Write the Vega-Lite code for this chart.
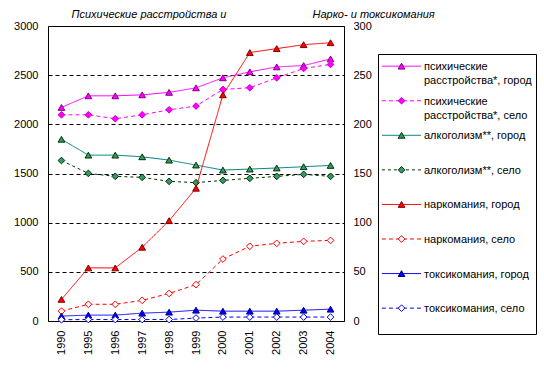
{
  "$schema": "https://vega.github.io/schema/vega-lite/v6.json",
  "padding": {"left": 13, "top": 7, "right": 0, "bottom": 0},
  "background": "white",
  "bounds": "flush",
  "spacing": 34,
  "config": {
    "font": "Liberation Sans",
    "view": {"stroke": "black", "strokeWidth": 1},
    "axis": {"labelFont": "Liberation Sans", "labelFontSize": 11, "labelColor": "black", "titleFont": "Liberation Sans", "titleFontSize": 11, "titleColor": "black", "titleFontWeight": "normal", "titleFontStyle": "italic", "ticks": false, "domain": false, "grid": false}
  },
  "datasets": {
    "main": [
      {"year": 1990, "series": "психические\nрасстройства*, город", "value": 2172},
      {"year": 1995, "series": "психические\nрасстройства*, город", "value": 2290},
      {"year": 1996, "series": "психические\nрасстройства*, город", "value": 2290},
      {"year": 1997, "series": "психические\nрасстройства*, город", "value": 2300},
      {"year": 1998, "series": "психические\nрасстройства*, город", "value": 2325},
      {"year": 1999, "series": "психические\nрасстройства*, город", "value": 2371},
      {"year": 2000, "series": "психические\nрасстройства*, город", "value": 2473},
      {"year": 2001, "series": "психические\nрасстройства*, город", "value": 2534},
      {"year": 2002, "series": "психические\nрасстройства*, город", "value": 2584},
      {"year": 2003, "series": "психические\nрасстройства*, город", "value": 2598},
      {"year": 2004, "series": "психические\nрасстройства*, город", "value": 2665},
      {"year": 1990, "series": "психические\nрасстройства*, село", "value": 2097},
      {"year": 1995, "series": "психические\nрасстройства*, село", "value": 2097},
      {"year": 1996, "series": "психические\nрасстройства*, село", "value": 2057},
      {"year": 1997, "series": "психические\nрасстройства*, село", "value": 2097},
      {"year": 1998, "series": "психические\nрасстройства*, село", "value": 2148},
      {"year": 1999, "series": "психические\nрасстройства*, село", "value": 2186},
      {"year": 2000, "series": "психические\nрасстройства*, село", "value": 2355},
      {"year": 2001, "series": "психические\nрасстройства*, село", "value": 2372},
      {"year": 2002, "series": "психические\nрасстройства*, село", "value": 2473},
      {"year": 2003, "series": "психические\nрасстройства*, село", "value": 2568},
      {"year": 2004, "series": "психические\nрасстройства*, село", "value": 2609},
      {"year": 1990, "series": "алкоголизм**, город", "value": 1848},
      {"year": 1995, "series": "алкоголизм**, город", "value": 1687},
      {"year": 1996, "series": "алкоголизм**, город", "value": 1687},
      {"year": 1997, "series": "алкоголизм**, город", "value": 1670},
      {"year": 1998, "series": "алкоголизм**, город", "value": 1636},
      {"year": 1999, "series": "алкоголизм**, город", "value": 1586},
      {"year": 2000, "series": "алкоголизм**, город", "value": 1535},
      {"year": 2001, "series": "алкоголизм**, город", "value": 1545},
      {"year": 2002, "series": "алкоголизм**, город", "value": 1556},
      {"year": 2003, "series": "алкоголизм**, город", "value": 1569},
      {"year": 2004, "series": "алкоголизм**, город", "value": 1582},
      {"year": 1990, "series": "алкоголизм**, село", "value": 1632},
      {"year": 1995, "series": "алкоголизм**, село", "value": 1501},
      {"year": 1996, "series": "алкоголизм**, село", "value": 1471},
      {"year": 1997, "series": "алкоголизм**, село", "value": 1461},
      {"year": 1998, "series": "алкоголизм**, село", "value": 1420},
      {"year": 1999, "series": "алкоголизм**, село", "value": 1407},
      {"year": 2000, "series": "алкоголизм**, село", "value": 1430},
      {"year": 2001, "series": "алкоголизм**, село", "value": 1451},
      {"year": 2002, "series": "алкоголизм**, село", "value": 1471},
      {"year": 2003, "series": "алкоголизм**, село", "value": 1491},
      {"year": 2004, "series": "алкоголизм**, село", "value": 1471},
      {"year": 1990, "series": "наркомания, город", "value": 22},
      {"year": 1995, "series": "наркомания, город", "value": 54},
      {"year": 1996, "series": "наркомания, город", "value": 54},
      {"year": 1997, "series": "наркомания, город", "value": 75},
      {"year": 1998, "series": "наркомания, город", "value": 102},
      {"year": 1999, "series": "наркомания, город", "value": 135},
      {"year": 2000, "series": "наркомания, город", "value": 230},
      {"year": 2001, "series": "наркомания, город", "value": 273},
      {"year": 2002, "series": "наркомания, город", "value": 277},
      {"year": 2003, "series": "наркомания, город", "value": 281},
      {"year": 2004, "series": "наркомания, город", "value": 283},
      {"year": 1990, "series": "наркомания, село", "value": 10},
      {"year": 1995, "series": "наркомания, село", "value": 17},
      {"year": 1996, "series": "наркомания, село", "value": 17},
      {"year": 1997, "series": "наркомания, село", "value": 21},
      {"year": 1998, "series": "наркомания, село", "value": 28},
      {"year": 1999, "series": "наркомания, село", "value": 37},
      {"year": 2000, "series": "наркомания, село", "value": 63},
      {"year": 2001, "series": "наркомания, село", "value": 76},
      {"year": 2002, "series": "наркомания, село", "value": 79},
      {"year": 2003, "series": "наркомания, село", "value": 81},
      {"year": 2004, "series": "наркомания, село", "value": 82},
      {"year": 1990, "series": "токсикомания, город", "value": 5},
      {"year": 1995, "series": "токсикомания, город", "value": 6},
      {"year": 1996, "series": "токсикомания, город", "value": 6},
      {"year": 1997, "series": "токсикомания, город", "value": 8},
      {"year": 1998, "series": "токсикомания, город", "value": 9},
      {"year": 1999, "series": "токсикомания, город", "value": 11},
      {"year": 2000, "series": "токсикомания, город", "value": 10},
      {"year": 2001, "series": "токсикомания, город", "value": 10},
      {"year": 2002, "series": "токсикомания, город", "value": 10},
      {"year": 2003, "series": "токсикомания, город", "value": 11},
      {"year": 2004, "series": "токсикомания, город", "value": 12},
      {"year": 1990, "series": "токсикомания, село", "value": 1.3},
      {"year": 1995, "series": "токсикомания, село", "value": 1.5},
      {"year": 1996, "series": "токсикомания, село", "value": 1.5},
      {"year": 1997, "series": "токсикомания, село", "value": 1.5},
      {"year": 1998, "series": "токсикомания, село", "value": 1.5},
      {"year": 1999, "series": "токсикомания, село", "value": 3},
      {"year": 2000, "series": "токсикомания, село", "value": 4},
      {"year": 2001, "series": "токсикомания, село", "value": 4},
      {"year": 2002, "series": "токсикомания, село", "value": 4},
      {"year": 2003, "series": "токсикомания, село", "value": 4},
      {"year": 2004, "series": "токсикомания, село", "value": 4}
    ]
  },
  "hconcat": [
    {
      "width": 296,
      "height": 295,
      "data": {"name": "main"},
      "encoding": {
        "x": {"field": "year", "type": "ordinal", "scale": {"type": "point", "padding": 0.5}, "axis": {"title": null, "labelAngle": 270, "labelAlign": "right", "labelBaseline": "middle", "labelPadding": 9}}
      },
      "layer": [
        {
          "transform": [{"filter": {"field": "series", "oneOf": ["психические\nрасстройства*, город", "психические\nрасстройства*, село", "алкоголизм**, город", "алкоголизм**, село"]}}],
          "encoding": {
            "y": {"field": "value", "type": "quantitative", "scale": {"domain": [0, 3000], "nice": false}, "axis": {"orient": "left", "format": "d", "title": "Психические расстройства и", "titleAngle": 0, "titleAlign": "left", "titleBaseline": "alphabetic", "titleX": 23, "titleY": -9, "values": [0, 500, 1000, 1500, 2000, 2500, 3000], "grid": true, "gridColor": "black", "gridDash": [4, 3], "gridWidth": 1, "gridOpacity": 1, "labelPadding": 10}}
          },
          "layer": [
            {
              "mark": {"type": "line", "strokeWidth": 1},
              "encoding": {
                "color": {"field": "series", "type": "nominal", "legend": null, "scale": {"domain": ["психические\nрасстройства*, город", "психические\nрасстройства*, село", "алкоголизм**, город", "алкоголизм**, село", "наркомания, город", "наркомания, село", "токсикомания, город", "токсикомания, село"], "range": ["#FF00FF", "#FF00FF", "#008080", "#003300", "#FF0000", "#FF0000", "#0000FF", "#0000FF"]}},
                "strokeDash": {"field": "series", "type": "nominal", "legend": null, "scale": {"domain": ["психические\nрасстройства*, город", "психические\nрасстройства*, село", "алкоголизм**, город", "алкоголизм**, село", "наркомания, город", "наркомания, село", "токсикомания, город", "токсикомания, село"], "range": [[1, 0], [4, 3], [1, 0], [3, 3], [1, 0], [4, 3], [1, 0], [4, 3]]}}
              }
            },
            {
              "mark": {"type": "point", "opacity": 1, "size": 45, "strokeWidth": 1},
              "encoding": {
                "shape": {"field": "series", "type": "nominal", "legend": null, "scale": {"domain": ["психические\nрасстройства*, город", "психические\nрасстройства*, село", "алкоголизм**, город", "алкоголизм**, село", "наркомания, город", "наркомания, село", "токсикомания, город", "токсикомания, село"], "range": ["triangle-up", "diamond", "triangle-up", "diamond", "triangle-up", "diamond", "triangle-up", "diamond"]}},
                "fill": {"field": "series", "type": "nominal", "legend": null, "scale": {"domain": ["психические\nрасстройства*, город", "психические\nрасстройства*, село", "алкоголизм**, город", "алкоголизм**, село", "наркомания, город", "наркомания, село", "токсикомания, город", "токсикомания, село"], "range": ["#FF00FF", "#FF00FF", "#339966", "#339966", "#FF0000", "#FFFFFF", "#0000FF", "#FFFFFF"]}},
                "stroke": {"field": "series", "type": "nominal", "legend": null, "scale": {"domain": ["психические\nрасстройства*, город", "психические\nрасстройства*, село", "алкоголизм**, город", "алкоголизм**, село", "наркомания, город", "наркомания, село", "токсикомания, город", "токсикомания, село"], "range": ["#800080", "#CC00CC", "#003300", "#003300", "#800000", "#FF0000", "#000080", "#0000FF"]}}
              }
            }
          ]
        },
        {
          "transform": [{"filter": {"field": "series", "oneOf": ["наркомания, город", "наркомания, село", "токсикомания, город", "токсикомания, село"]}}],
          "encoding": {
            "y": {"field": "value", "type": "quantitative", "scale": {"domain": [0, 300], "nice": false}, "axis": {"orient": "right", "title": "Нарко- и токсикомания", "titleAngle": 0, "titleAlign": "left", "titleBaseline": "alphabetic", "titleX": -32, "titleY": -9, "values": [0, 50, 100, 150, 200, 250, 300], "labelPadding": 9}}
          },
          "layer": [
            {
              "mark": {"type": "line", "strokeWidth": 1},
              "encoding": {
                "color": {"field": "series", "type": "nominal", "legend": null},
                "strokeDash": {"field": "series", "type": "nominal", "legend": null}
              }
            },
            {
              "mark": {"type": "point", "opacity": 1, "size": 45, "strokeWidth": 1},
              "encoding": {
                "shape": {"field": "series", "type": "nominal", "legend": null},
                "fill": {"field": "series", "type": "nominal", "legend": null},
                "stroke": {"field": "series", "type": "nominal", "legend": null}
              }
            }
          ]
        }
      ],
      "resolve": {"scale": {"y": "independent"}, "axis": {"y": "independent"}}
    },
    {
      "spacing": 0,
      "bounds": "flush",
      "vconcat": [
        {
          "width": 158,
          "height": 28,
          "view": {"stroke": null},
          "data": {"values": []},
          "mark": "point"
        },
        {
          "width": 158,
          "height": 280,
          "data": {"name": "main"},
          "transform": [{"aggregate": [{"op": "count", "as": "n"}], "groupby": ["series"]}],
          "encoding": {
            "y": {"field": "series", "type": "nominal", "axis": null, "scale": {"type": "point", "domain": ["психические\nрасстройства*, город", "психические\nрасстройства*, село", "алкоголизм**, город", "алкоголизм**, село", "наркомания, город", "наркомания, село", "токсикомания, город", "токсикомания, село"], "padding": 0.55, "align": 0.32}}
          },
          "layer": [
            {
              "mark": {"type": "rule", "strokeWidth": 1},
              "encoding": {
                "x": {"datum": 0.025, "type": "quantitative", "scale": {"domain": [0, 1], "nice": false}, "axis": null},
                "x2": {"datum": 0.272},
                "color": {"field": "series", "type": "nominal", "legend": null},
                "strokeDash": {"field": "series", "type": "nominal", "legend": null}
              }
            },
            {
              "mark": {"type": "point", "opacity": 1, "size": 45, "strokeWidth": 1},
              "encoding": {
                "x": {"datum": 0.149, "type": "quantitative"},
                "shape": {"field": "series", "type": "nominal", "legend": null},
                "fill": {"field": "series", "type": "nominal", "legend": null},
                "stroke": {"field": "series", "type": "nominal", "legend": null}
              }
            },
            {
              "mark": {"type": "text", "align": "left", "baseline": "alphabetic", "dy": 4, "fontSize": 11, "font": "Liberation Sans", "color": "black", "lineBreak": "\n", "lineHeight": 14},
              "encoding": {
                "x": {"datum": 0.291, "type": "quantitative"},
                "text": {"field": "series"}
              }
            }
          ]
        }
      ]
    }
  ]
}
